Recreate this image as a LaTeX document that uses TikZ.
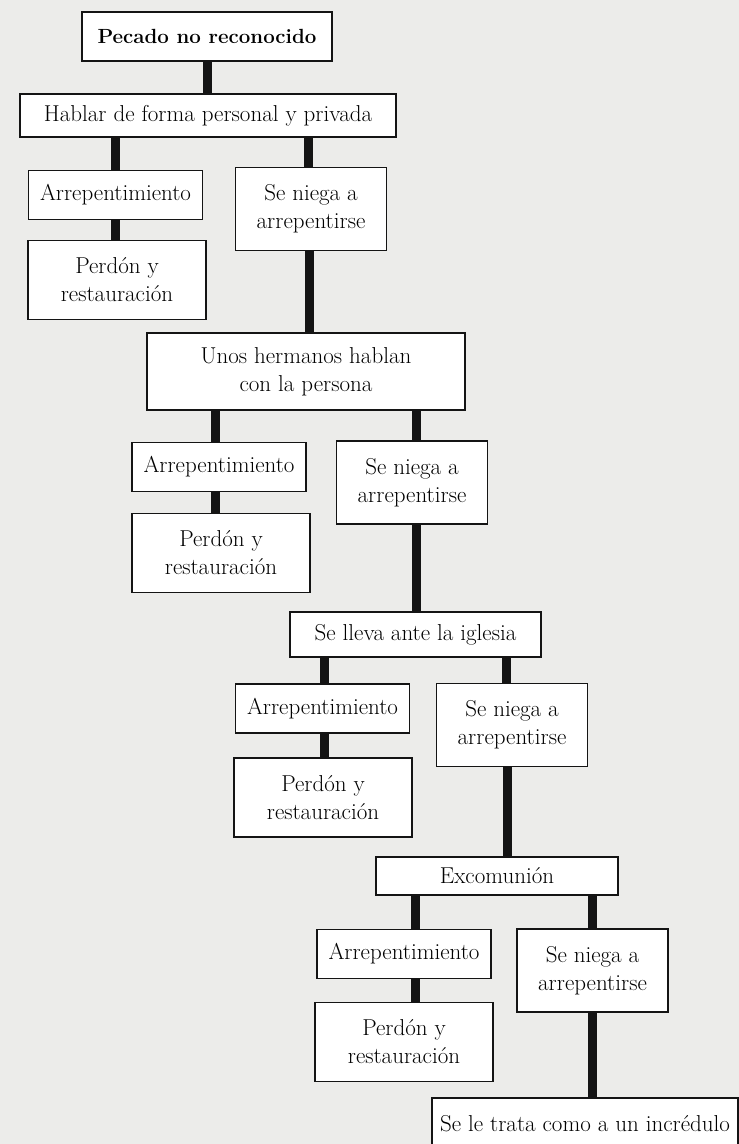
\documentclass[tikz,border=0pt]{standalone}
\usepackage{tikz}
\usetikzlibrary{positioning}
\definecolor{PageGray}{RGB}{236,236,234}
\definecolor{InkBlack}{RGB}{20,20,20}

\begin{document}
\begin{tikzpicture}[x=1pt, y=-1pt,
    caja/.style={rectangle, draw=InkBlack, line width=1.8pt, fill=white,
                 align=center, inner sep=0pt, text=black,
                 font=\fontsize{23}{28}\selectfont},
    arrbox/.style={caja, minimum width=174pt, minimum height=49pt},
    negbox/.style={caja, minimum width=151pt, minimum height=83pt},
    perbox/.style={caja, minimum width=178pt, minimum height=79pt},
    conn/.style={draw=InkBlack, line width=9pt}
  ]
  % page
  \fill[PageGray] (0,0) rectangle (739,1144);
  \useasboundingbox (0,0) rectangle (739,1144);

  % first step
  \node[caja, minimum width=250pt, minimum height=49pt,
        font=\fontsize{20.5}{28}\selectfont\bfseries] (pecado) at (207,36.5)
        {Pecado no reconocido};
  \node[caja, minimum width=376pt, minimum height=43pt] (hablar) at (208,115.5)
        {Hablar de forma personal y privada};
  \node[arrbox] (arr1) at (115.5,195) {Arrepentimiento};
  \node[negbox] (neg1) at (311,209) {Se niega a\\arrepentirse};
  \node[perbox] (per1) at (117,280) {Perdón y\\restauración};

  % second step
  \node[caja, minimum width=318pt, minimum height=77pt] (unos) at (306,371.5)
        {Unos hermanos hablan\\con la persona};
  \node[arrbox] (arr2) at (219,467) {Arrepentimiento};
  \node[negbox] (neg2) at (412,482.5) {Se niega a\\arrepentirse};
  \node[perbox] (per2) at (221,553) {Perdón y\\restauración};

  % third step
  \node[caja, minimum width=251pt, minimum height=45pt] (lleva) at (415.5,634.5)
        {Se lleva ante la iglesia};
  \node[arrbox] (arr3) at (322.5,708.5) {Arrepentimiento};
  \node[negbox] (neg3) at (512,725) {Se niega a\\arrepentirse};
  \node[perbox] (per3) at (323,797.5) {Perdón y\\restauración};

  % fourth step
  \node[caja, minimum width=242pt, minimum height=38pt] (exc) at (497,876)
        {Excomunión};
  \node[arrbox] (arr4) at (404,954) {Arrepentimiento};
  \node[negbox] (neg4) at (592.5,970.5) {Se niega a\\arrepentirse};
  \node[perbox] (per4) at (404,1042) {Perdón y\\restauración};
  \node[caja, minimum width=306pt, minimum height=52pt] (trata) at (585,1124)
        {Se le trata como a un incrédulo};

  % connectors
  \draw[conn] (pecado.south) -- (pecado.south |- hablar.north);
  \draw[conn] (hablar.south -| arr1.north) -- (arr1.north);
  \draw[conn] ([xshift=-3pt]hablar.south -| neg1.north) -- ([xshift=-3pt]neg1.north);
  \draw[conn] (arr1.south) -- (arr1.south |- per1.north);
  \draw[conn] ([xshift=-2pt]neg1.south) -- ([xshift=-2pt]neg1.south |- unos.north);

  \draw[conn] ([xshift=-4pt]unos.south -| arr2.north) -- ([xshift=-4pt]arr2.north);
  \draw[conn] ([xshift=4pt]unos.south -| neg2.north) -- ([xshift=4pt]neg2.north);
  \draw[conn] ([xshift=-4pt]arr2.south) -- ([xshift=-4pt]arr2.south |- per2.north);
  \draw[conn] ([xshift=4pt]neg2.south) -- ([xshift=4pt]neg2.south |- lleva.north);

  \draw[conn] ([xshift=2pt]lleva.south -| arr3.north) -- ([xshift=2pt]arr3.north);
  \draw[conn] ([xshift=-6pt]lleva.south -| neg3.north) -- ([xshift=-6pt]neg3.north);
  \draw[conn] ([xshift=2pt]arr3.south) -- ([xshift=2pt]arr3.south |- per3.north);
  \draw[conn] ([xshift=-5pt]neg3.south) -- ([xshift=-5pt]neg3.south |- exc.north);

  \draw[conn] ([xshift=11pt]exc.south -| arr4.north) -- ([xshift=11pt]arr4.north);
  \draw[conn] (exc.south -| neg4.north) -- (neg4.north);
  \draw[conn] ([xshift=11pt]arr4.south) -- ([xshift=11pt]arr4.south |- per4.north);
  \draw[conn] (neg4.south) -- (neg4.south |- trata.north);
\end{tikzpicture}
\end{document}
